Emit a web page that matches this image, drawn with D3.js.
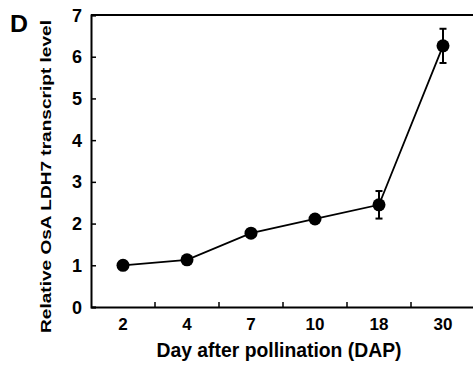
<!DOCTYPE html>
<html>
<head>
<meta charset="utf-8">
<script src="https://cdn.jsdelivr.net/npm/d3@7"></script>
<style>
  body { margin: 0; background: #fff; }
  svg text { font-family: "Liberation Sans", Arial, sans-serif; font-weight: bold; fill: #000; }
</style>
</head>
<body>
<div id="chart"></div>
<script>
// values
const days = ["2", "4", "7", "10", "18", "30"];
const levels = [1.0, 1.13, 1.77, 2.11, 2.45, 6.26];
const errors = [0.03, 0.05, 0.06, 0.05, 0.33, 0.41];
const yTicks = [0, 1, 2, 3, 4, 5, 6, 7];

const width = 473, height = 365;
const margin = { top: 15, left: 91, bottom: 58 };

const svg = d3.select("#chart").append("svg")
  .attr("width", width)
  .attr("height", height);

const x = d3.scaleBand()
  .domain(days)
  .range([margin.left, margin.left + 64 * days.length]);

const y = d3.scaleLinear()
  .domain([0, 7])
  .range([height - margin.bottom, margin.top]);

// top frame line
svg.append("line")
  .attr("x1", margin.left).attr("x2", width)
  .attr("y1", y(7)).attr("y2", y(7))
  .attr("stroke", "#000").attr("stroke-width", 2);

// y axis
const yAxis = svg.append("g")
  .attr("transform", `translate(${margin.left},0)`)
  .call(d3.axisRight(y).tickValues(yTicks).tickSize(5).tickFormat(""));
yAxis.select(".domain").attr("stroke-width", 2);
yAxis.selectAll(".tick line").attr("stroke-width", 1.5);

svg.selectAll(".ylab")
  .data(yTicks)
  .join("text")
  .attr("class", "ylab")
  .attr("x", 82)
  .attr("y", d => y(d) + 6.5)
  .attr("text-anchor", "end")
  .style("font-size", "18px")
  .text(d => d);

// x axis, ticks sit on band boundaries
const xAxis = svg.append("g")
  .attr("transform", `translate(0,${y(0)})`)
  .call(d3.axisTop(x).tickSize(0).tickFormat(""));
xAxis.select(".domain").attr("stroke-width", 2);
xAxis.selectAll(".tick").remove();

svg.selectAll(".xtick")
  .data(days.slice(1))
  .join("line")
  .attr("class", "xtick")
  .attr("x1", d => x(d)).attr("x2", d => x(d))
  .attr("y1", y(0)).attr("y2", y(0) - 5)
  .attr("stroke", "#000").attr("stroke-width", 1.5);

svg.selectAll(".xlab")
  .data(days)
  .join("text")
  .attr("class", "xlab")
  .attr("x", d => x(d) + x.bandwidth() / 2)
  .attr("y", 330)
  .attr("text-anchor", "middle")
  .style("font-size", "17px")
  .text(d => d);

// axis titles
svg.append("text")
  .attr("x", 279)
  .attr("y", 357)
  .attr("text-anchor", "middle")
  .attr("textLength", 245)
  .attr("lengthAdjust", "spacingAndGlyphs")
  .style("font-size", "20px")
  .text("Day after pollination (DAP)");

svg.append("text")
  .attr("transform", "translate(51,176.5) rotate(-90)")
  .attr("text-anchor", "middle")
  .attr("textLength", 313)
  .attr("lengthAdjust", "spacingAndGlyphs")
  .style("font-size", "15.5px")
  .text("Relative OsA LDH7 transcript level");

// panel letter
svg.append("text")
  .attr("x", 10)
  .attr("y", 32)
  .attr("textLength", 18)
  .attr("lengthAdjust", "spacingAndGlyphs")
  .style("font-size", "23px")
  .text("D");

// series
const pts = days.map((d, i) => ({ day: d, v: levels[i], e: errors[i] }));
const cx = d => x(d.day) + x.bandwidth() / 2;

svg.append("path")
  .datum(pts)
  .attr("fill", "none")
  .attr("stroke", "#000")
  .attr("stroke-width", 1.8)
  .attr("d", d3.line().x(cx).y(d => y(d.v)));

const err = svg.append("g").attr("stroke", "#000").attr("stroke-width", 2);
err.selectAll(".ebar")
  .data(pts)
  .join("line")
  .attr("x1", cx).attr("x2", cx)
  .attr("y1", d => y(d.v - d.e)).attr("y2", d => y(d.v + d.e));
err.selectAll(".ecap")
  .data(pts.flatMap(d => [{ p: d, v: d.v - d.e }, { p: d, v: d.v + d.e }]))
  .join("line")
  .attr("x1", d => cx(d.p) - 3.5).attr("x2", d => cx(d.p) + 3.5)
  .attr("y1", d => y(d.v)).attr("y2", d => y(d.v));

svg.selectAll(".dot")
  .data(pts)
  .join("circle")
  .attr("class", "dot")
  .attr("cx", cx)
  .attr("cy", d => y(d.v))
  .attr("r", 6.5)
  .attr("fill", "#000");
</script>
</body>
</html>
